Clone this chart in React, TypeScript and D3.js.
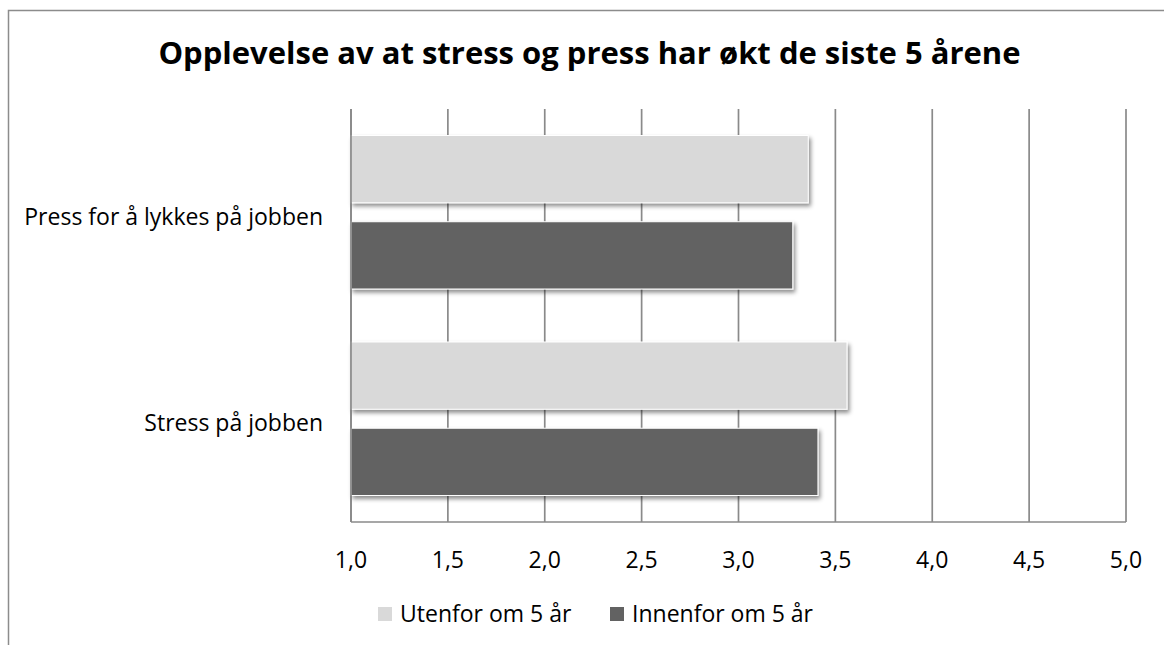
import React from "react";
import { scaleLinear, scaleBand } from "d3";

const categories = ["Press for å lykkes på jobben", "Stress på jobben"];
const seriesNames = ["Utenfor om 5 år", "Innenfor om 5 år"];
const utenfor = [3.36, 3.56];
const innenfor = [3.28, 3.41];
const tickValues = [1.0, 1.5, 2.0, 2.5, 3.0, 3.5, 4.0, 4.5, 5.0];

const colors = ["#d9d9d9", "#626262"];
const FONT = "'Open Sans', Lato, sans-serif";

function App() {
  const W = 1164;
  const H = 645;
  const left = 351;
  const right = 1126;
  const top = 109;
  const bottom = 522;

  const x = scaleLinear().domain([1, 5]).range([left, right]);
  const y = scaleBand().domain(categories).range([top, bottom]).padding(0);
  const inner = scaleBand()
    .domain(seriesNames)
    .range([26.5, y.bandwidth() - 26.5])
    .paddingInner(0.22);

  const values = [utenfor, innenfor];

  return (
    <div style={{ position: "absolute", left: 0, top: 0 }}>
      <svg width={W} height={H} style={{ display: "block", background: "#fff" }}>
        <defs>
          <filter id="shadow" x="-5%" y="-20%" width="115%" height="160%">
            <feDropShadow dx="2" dy="3" stdDeviation="2" floodColor="#000" floodOpacity="0.45" />
          </filter>
        </defs>
        {/* chart border, runs off the right and bottom edge */}
        <rect x={8.5} y={10.5} width={1200} height={700} fill="#fff" stroke="#8c8c8c" strokeWidth={1.5} />

        <text
          x={589.5}
          y={64}
          textAnchor="middle"
          fontFamily={FONT}
          fontWeight="bold"
          fontSize={31}
          fill="#000"
        >
          Opplevelse av at stress og press har økt de siste 5 årene
        </text>

        {/* vertical gridlines */}
        {tickValues.map((t) => (
          <line key={t} x1={x(t)} x2={x(t)} y1={top} y2={bottom} stroke="#8a8a8a" strokeWidth={1.7} />
        ))}
        <line x1={left} x2={right} y1={bottom} y2={bottom} stroke="#8a8a8a" strokeWidth={1.7} />

        {/* bars */}
        {categories.map((c, i) => (
          <g key={c} transform={`translate(0,${y(c)})`}>
            {seriesNames.map((s, j) => (
              <rect
                key={s}
                x={x(1)}
                y={inner(s)}
                width={x(values[j][i]) - x(1)}
                height={inner.bandwidth()}
                fill={colors[j]}
                stroke="#fff"
                strokeWidth={1}
                filter="url(#shadow)"
              />
            ))}
          </g>
        ))}
        <line x1={left} x2={left} y1={top} y2={bottom} stroke="#8a8a8a" strokeWidth={1.7} />

        {/* category labels */}
        {categories.map((c) => (
          <text
            key={c}
            x={323}
            y={(y(c) as number) + y.bandwidth() / 2 + 12.5}
            textAnchor="end"
            fontFamily={FONT}
            fontSize={23}
            fill="#000"
          >
            {c}
          </text>
        ))}

        {/* tick labels */}
        {tickValues.map((t) => (
          <text
            key={t}
            x={x(t)}
            y={568}
            textAnchor="middle"
            fontFamily={FONT}
            fontSize={23}
            fill="#000"
          >
            {t.toFixed(1).replace(".", ",")}
          </text>
        ))}

        {/* legend */}
        {seriesNames.map((s, j) => {
          const lx = [378, 610][j];
          return (
            <g key={s}>
              <rect x={lx} y={607} width={14} height={14} fill={colors[j]} />
              <text x={lx + 22} y={621.5} fontFamily={FONT} fontSize={23} fill="#000">
                {s}
              </text>
            </g>
          );
        })}
      </svg>
    </div>
  );
}

export default App;
